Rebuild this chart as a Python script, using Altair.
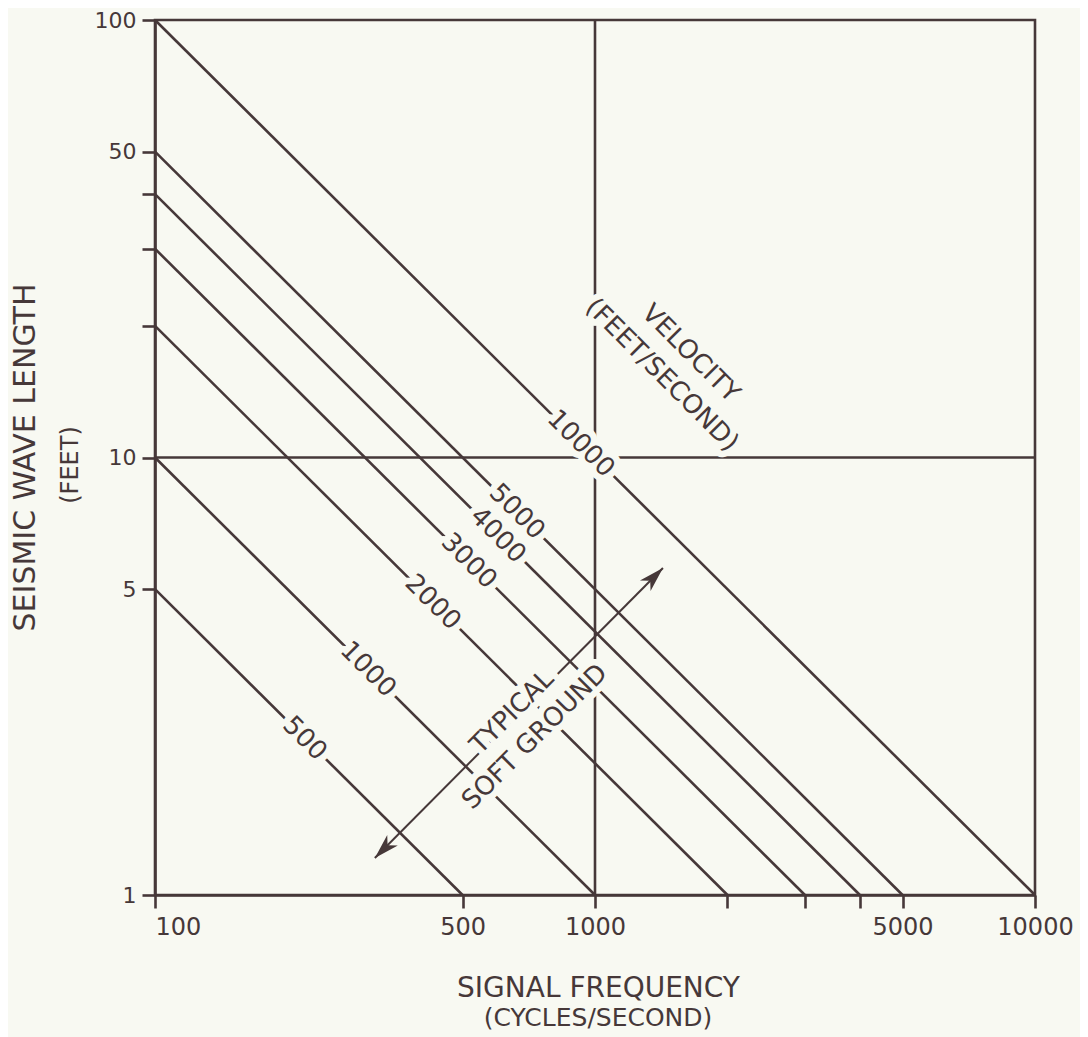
import altair as alt
import pandas as pd

# ---------------- data ----------------
velocities = [500, 1000, 2000, 3000, 4000, 5000, 10000]          # ft/s
start_freq = [100, 100, 100, 100, 100, 100, 100]                 # Hz at left edge
start_len = [5, 10, 20, 30, 40, 50, 100]                         # ft at left edge
end_freq = [500, 1000, 2000, 3000, 4000, 5000, 10000]            # Hz at bottom edge
end_len = [1, 1, 1, 1, 1, 1, 1]                                  # ft at bottom edge
label_freq = [219, 305, 428, 517, 602, 665, 929]                 # where the numbers sit
label_len = [2.28, 3.28, 4.67, 5.80, 6.64, 7.52, 10.76]

x_ticks = [100, 500, 1000, 2000, 3000, 4000, 5000, 10000]
x_labeled = [100, 500, 1000, 5000, 10000]
y_ticks = [1, 5, 10, 20, 30, 40, 50, 100]
y_labeled = [1, 5, 10, 50, 100]

grid_freq = [1000]
grid_len = [10]

arrow_freq = [316, 1427]
arrow_len = [1.215, 5.59]
arrow_angle = [225, 45]

notes = ["VELOCITY", "(FEET/SECOND)", "TYPICAL", "SOFT GROUND"]
note_freq = [1650, 1420, 648, 730]
note_len = [17.3, 15.44, 2.62, 2.30]
note_angle = [45, 45, 315, 315]

# ---------------- styles ----------------
INK = "#463839"
BG = "#f8f9f2"
FONT = "DejaVu Sans"
LW = 2.6

lines_rows = []
for v, f0, l0, f1, l1 in zip(velocities, start_freq, start_len, end_freq, end_len):
    lines_rows.append({"v": v, "f": f0, "l": l0})
    lines_rows.append({"v": v, "f": f1, "l": l1})
lines_df = pd.DataFrame(lines_rows)

labels_df = pd.DataFrame({"f": label_freq, "l": label_len,
                          "txt": [str(v) for v in velocities],
                          "ang": [45] * len(velocities)})
notes_df = pd.DataFrame({"f": note_freq, "l": note_len, "txt": notes, "ang": note_angle})
all_text_df = pd.concat([labels_df, notes_df], ignore_index=True)
arrow_df = pd.DataFrame({"f": arrow_freq, "l": arrow_len, "ang": arrow_angle})
vgrid_df = pd.DataFrame({"f": grid_freq})
hgrid_df = pd.DataFrame({"l": grid_len})

xs = alt.Scale(type="log", domain=[100, 10000], nice=False)
ys = alt.Scale(type="log", domain=[1, 100], nice=False)

common_axis = dict(domainColor=INK, domainWidth=LW, tickColor=INK, tickWidth=LW,
                   tickSize=13, labelFont=FONT, labelColor=INK,
                   labelFlush=False, grid=False, titleFont=FONT, titleColor=INK,
                   titleFontWeight="normal")

x_axis = alt.Axis(values=x_ticks,
                  labelExpr=f"indexof({x_labeled}, datum.value) >= 0 ? '' + datum.value : ''",
                  labelAlign=alt.condition("datum.value == 100", alt.value("left"), alt.value("center")),
                  labelFontSize=24, labelPadding=7, title="SIGNAL FREQUENCY", titleFontSize=28,
                  titleX=443, titleY=93, titleBaseline="middle", titleAlign="center",
                  **common_axis)
y_axis = alt.Axis(values=y_ticks,
                  labelExpr=f"indexof({y_labeled}, datum.value) >= 0 ? '' + datum.value : ''",
                  labelFontSize=22, labelPadding=6, title="SEISMIC WAVE LENGTH", titleFontSize=30,
                  titleX=-130, titleY=437, titleAngle=270, titleBaseline="middle",
                  titleAlign="center", **common_axis)


def X(field="f:Q"):
    return alt.X(field, scale=xs, axis=x_axis)


def Y(field="l:Q"):
    return alt.Y(field, scale=ys, axis=y_axis)


vgrid = alt.Chart(vgrid_df).mark_rule(color=INK, strokeWidth=LW).encode(x=X())
hgrid = alt.Chart(hgrid_df).mark_rule(color=INK, strokeWidth=LW).encode(y=Y())

vel_lines = alt.Chart(lines_df).mark_line(color=INK, strokeWidth=LW).encode(
    x=X(), y=Y(), detail="v:N")

arrow_shaft = alt.Chart(arrow_df).mark_line(color=INK, strokeWidth=2).encode(x=X(), y=Y())

text_mask = alt.Chart(all_text_df).mark_text(
    font=FONT, fontSize=26, fill=BG, stroke=BG, strokeWidth=13, strokeJoin="round",
    align="center", baseline="middle").encode(
    x=X(), y=Y(), text="txt:N", angle=alt.Angle("ang:Q", scale=None))

texts = alt.Chart(all_text_df).mark_text(
    font=FONT, fontSize=26, color=INK, align="center", baseline="middle").encode(
    x=X(), y=Y(), text="txt:N", angle=alt.Angle("ang:Q", scale=None))

ARROW_PATH = "M0,0 L0.3,1 L0,0.72 L-0.3,1 Z"
heads = alt.Chart(arrow_df).mark_point(
    shape=ARROW_PATH, filled=True, color=INK, opacity=1, size=2500).encode(
    x=X(), y=Y(), angle=alt.Angle("ang:Q", scale=None))

feet = alt.Chart(pd.DataFrame({"t": ["(FEET)"]})).mark_text(
    font=FONT, fontSize=24, color=INK, angle=270, align="center", baseline="middle").encode(
    x=alt.value(-84), y=alt.value(445), text="t:N")

cycles = alt.Chart(pd.DataFrame({"t": ["(CYCLES/SECOND)"]})).mark_text(
    font=FONT, fontSize=25, color=INK, align="center", baseline="middle").encode(
    x=alt.value(443), y=alt.value(998), text="t:N")

chart = alt.layer(
    vgrid, hgrid, vel_lines, arrow_shaft, text_mask, texts, heads, feet, cycles
).properties(
    width=880, height=875,
    autosize=alt.AutoSizeParams(type="none"),
    padding={"left": 147, "top": 12, "right": 45, "bottom": 142},
).configure(background=BG).configure_view(stroke=INK, strokeWidth=LW)

chart.save("out.html", embed_options={"renderer": "svg", "actions": False})
